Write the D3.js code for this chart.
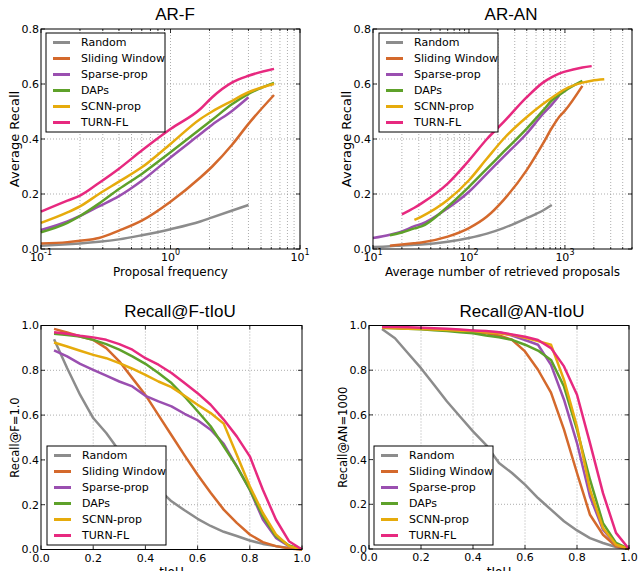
<!DOCTYPE html>
<html>
<head>
<meta charset="UTF-8">
<style>
  body { margin: 0; background: white; }
  svg { display: block; }
  text { font-family: "DejaVu Sans", sans-serif; fill: #000; }
  .title { font-family: "Liberation Sans", Arial, sans-serif; font-size: 17px; }
</style>
</head>
<body>
<svg></svg>
<script src="https://cdn.jsdelivr.net/npm/d3@7"></script>
<script>

const methods = ["Random", "Sliding Window", "Sparse-prop", "DAPs", "SCNN-prop", "TURN-FL"];
const colors = ["#8c8c8c", "#d4692c", "#9a4fb0", "#5ea12a", "#e6ab0c", "#e7297f"];

// AR-F  (proposal frequency, log axis)
const arfFreq    = [0.1, 0.16, 0.2, 0.28, 0.4, 0.6, 1.0, 1.7, 2.1, 3.0, 4.0, 6.3];
const arfRandom  = [0.012, 0.017, 0.02, 0.026, 0.035, 0.05, 0.072, 0.1, 0.115, 0.14, 0.16, null];
const arfSliding = [0.02, 0.025, 0.03, 0.04, 0.067, 0.103, 0.172, 0.26, 0.3, 0.38, 0.455, 0.56];
const arfSparse  = [0.069, 0.1, 0.12, 0.155, 0.192, 0.248, 0.333, 0.418, 0.452, 0.503, 0.552, null];
const arfDaps    = [0.061, 0.095, 0.12, 0.165, 0.218, 0.273, 0.352, 0.436, 0.47, 0.527, 0.564, 0.604];
const arfScnn    = [0.095, 0.133, 0.155, 0.2, 0.245, 0.297, 0.382, 0.473, 0.5, 0.539, 0.57, 0.6];
const arfTurn    = [0.136, 0.176, 0.194, 0.24, 0.292, 0.358, 0.436, 0.509, 0.552, 0.606, 0.63, 0.655];

// AR-AN (average number of retrieved proposals, log axis)
const aranNum     = [10, 15, 20, 27, 32, 60, 100, 154, 229, 398, 590, 730, 870, 1000, 1520, 1900, 2570];
const aranRandom  = [0.007, 0.01, 0.013, 0.015, 0.016, 0.026, 0.04, 0.056, 0.076, 0.112, 0.14, 0.16, null, null, null, null, null];
const aranSliding = [null, 0.012, 0.016, 0.021, 0.024, 0.045, 0.076, 0.118, 0.178, 0.286, 0.383, 0.44, 0.48, 0.503, 0.593, null, null];
const aranSparse  = [0.04, 0.052, 0.064, 0.083, 0.091, 0.148, 0.208, 0.274, 0.335, 0.419, 0.491, 0.525, 0.557, null, null, null, null];
const aranDaps    = [null, 0.05, 0.06, 0.075, 0.082, 0.154, 0.226, 0.292, 0.353, 0.437, 0.503, 0.54, 0.56, 0.575, 0.611, null, null];
const aranScnn    = [null, null, null, 0.106, 0.118, 0.178, 0.25, 0.329, 0.4, 0.479, 0.527, 0.55, 0.568, 0.581, 0.605, 0.612, 0.617];
const aranTurn    = [null, null, 0.126, 0.15, 0.166, 0.238, 0.322, 0.4, 0.461, 0.551, 0.605, 0.625, 0.638, 0.645, 0.66, 0.665, null];

// tIoU thresholds
const tiou = [0.05, 0.1, 0.15, 0.2, 0.25, 0.3, 0.35, 0.4, 0.45, 0.5, 0.55, 0.6, 0.65, 0.7, 0.75, 0.8, 0.85, 0.9, 0.95, 1.0];

// Recall@F=1.0 vs tIoU
const rfRandom  = [0.939, 0.81, 0.69, 0.587, 0.52, 0.44, 0.38, 0.33, 0.27, 0.215, 0.175, 0.137, 0.105, 0.079, 0.06, 0.04, 0.025, 0.015, 0.007, 0];
const rfSliding = [0.985, 0.969, 0.951, 0.936, 0.899, 0.84, 0.765, 0.69, 0.6, 0.51, 0.42, 0.334, 0.253, 0.178, 0.119, 0.067, 0.033, 0.015, 0.005, 0];
const rfSparse  = [0.889, 0.862, 0.829, 0.802, 0.776, 0.75, 0.728, 0.686, 0.661, 0.639, 0.606, 0.577, 0.535, 0.472, 0.371, 0.267, 0.134, 0.052, 0.015, 0];
const rfDaps    = [0.963, 0.958, 0.951, 0.936, 0.917, 0.892, 0.862, 0.829, 0.788, 0.743, 0.683, 0.617, 0.55, 0.461, 0.371, 0.267, 0.149, 0.059, 0.018, 0];
const rfScnn    = [0.924, 0.906, 0.887, 0.869, 0.854, 0.832, 0.807, 0.78, 0.75, 0.725, 0.686, 0.646, 0.609, 0.562, 0.423, 0.282, 0.163, 0.067, 0.015, 0];
const rfTurn    = [0.97, 0.963, 0.954, 0.947, 0.936, 0.917, 0.892, 0.854, 0.825, 0.788, 0.743, 0.698, 0.646, 0.58, 0.505, 0.416, 0.267, 0.134, 0.037, 0];

// Recall@AN=1000 vs tIoU
const ranRandom  = [0.984, 0.943, 0.876, 0.809, 0.735, 0.66, 0.593, 0.526, 0.466, 0.385, 0.34, 0.288, 0.228, 0.176, 0.124, 0.083, 0.049, 0.027, 0.009, 0];
const ranSliding = [0.993, 0.99, 0.988, 0.985, 0.983, 0.98, 0.975, 0.97, 0.965, 0.955, 0.936, 0.884, 0.802, 0.7, 0.534, 0.34, 0.153, 0.064, 0.012, 0];
const ranSparse  = [0.993, 0.99, 0.988, 0.985, 0.983, 0.98, 0.977, 0.975, 0.972, 0.97, 0.955, 0.935, 0.914, 0.824, 0.668, 0.474, 0.235, 0.086, 0.019, 0];
const ranDaps    = [0.99, 0.988, 0.986, 0.983, 0.979, 0.975, 0.97, 0.965, 0.955, 0.947, 0.936, 0.914, 0.888, 0.846, 0.727, 0.534, 0.31, 0.116, 0.027, 0];
const ranScnn    = [0.99, 0.988, 0.986, 0.984, 0.982, 0.98, 0.977, 0.975, 0.97, 0.965, 0.958, 0.945, 0.93, 0.914, 0.757, 0.548, 0.265, 0.094, 0.019, 0];
const ranTurn    = [0.993, 0.993, 0.992, 0.99, 0.988, 0.985, 0.982, 0.978, 0.975, 0.97, 0.96, 0.95, 0.935, 0.899, 0.817, 0.69, 0.474, 0.25, 0.072, 0];

const linTicks = [0, 0.2, 0.4, 0.6, 0.8, 1.0];
const arTicks = [0, 0.2, 0.4, 0.6, 0.8];

let width = 639, height = 571;
let svg = d3.select("svg").attr("width", width).attr("height", height);

function drawPanel(p) {
  let g = svg.append("g");
  let x = p.log ? d3.scaleLog().domain(p.xDomain) : d3.scaleLinear().domain(p.xDomain);
  x.range([p.left, p.right]);
  let y = d3.scaleLinear().domain(p.yDomain).range([p.bottom, p.top]);

  let xMajor, xMinor;
  if (p.log) {
    let all = x.ticks();
    xMajor = all.filter(v => Math.abs(Math.log10(v) - Math.round(Math.log10(v))) < 1e-9);
    xMinor = all.filter(v => !xMajor.includes(v));
  } else {
    xMajor = p.xTicks;
    xMinor = [];
  }

  // dotted grid
  let grid = g.append("g").attr("stroke", "#8a8a8a").attr("stroke-width", 0.7).attr("stroke-dasharray", "1,2");
  xMajor.concat(xMinor).forEach(v => {
    if (Math.abs(x(v) - p.left) < 1 || Math.abs(x(v) - p.right) < 1) return;
    grid.append("line").attr("x1", x(v)).attr("x2", x(v)).attr("y1", p.top).attr("y2", p.bottom);
  });
  p.yTicks.forEach(v => {
    if (Math.abs(y(v) - p.top) < 1 || Math.abs(y(v) - p.bottom) < 1) return;
    grid.append("line").attr("x1", p.left).attr("x2", p.right).attr("y1", y(v)).attr("y2", y(v));
  });

  // curves
  let line = d3.line()
    .defined(d => d[1] != null)
    .x(d => x(d[0]))
    .y(d => y(d[1]))
    .curve(p.log ? d3.curveMonotoneX : d3.curveLinear);
  p.series.forEach((s, i) => {
    g.append("path")
      .datum(p.xs.map((v, j) => [v, s[j]]))
      .attr("fill", "none")
      .attr("stroke", colors[i])
      .attr("stroke-width", 2.5)
      .attr("stroke-linejoin", "round")
      .attr("d", line);
  });

  // frame
  g.append("rect")
    .attr("x", p.left).attr("y", p.top)
    .attr("width", p.right - p.left).attr("height", p.bottom - p.top)
    .attr("fill", "none").attr("stroke", "#000").attr("stroke-width", 1);

  // inward ticks on all sides
  let tk = g.append("g").attr("stroke", "#000").attr("stroke-width", 0.8);
  xMajor.forEach(v => {
    tk.append("line").attr("x1", x(v)).attr("x2", x(v)).attr("y1", p.bottom).attr("y2", p.bottom - 4);
    tk.append("line").attr("x1", x(v)).attr("x2", x(v)).attr("y1", p.top).attr("y2", p.top + 4);
  });
  xMinor.forEach(v => {
    tk.append("line").attr("x1", x(v)).attr("x2", x(v)).attr("y1", p.bottom).attr("y2", p.bottom - 2);
    tk.append("line").attr("x1", x(v)).attr("x2", x(v)).attr("y1", p.top).attr("y2", p.top + 2);
  });
  p.yTicks.forEach(v => {
    tk.append("line").attr("x1", p.left).attr("x2", p.left + 4).attr("y1", y(v)).attr("y2", y(v));
    tk.append("line").attr("x1", p.right).attr("x2", p.right - 4).attr("y1", y(v)).attr("y2", y(v));
  });

  // tick labels
  p.yTicks.forEach(v => {
    g.append("text")
      .attr("x", p.left - 2).attr("y", y(v))
      .attr("dy", "0.36em")
      .attr("text-anchor", "end")
      .style("font-size", "11px")
      .text(d3.format(".1f")(v));
  });
  xMajor.forEach(v => {
    let t = g.append("text")
      .attr("x", x(v)).attr("y", p.bottom + 12)
      .attr("text-anchor", "middle")
      .style("font-size", "11px");
    if (p.log) {
      t.append("tspan").text("10");
      t.append("tspan").attr("dy", -6).style("font-size", "8px").text(Math.round(Math.log10(v)));
    } else {
      t.text(d3.format(".1f")(v));
    }
  });

  // titles and axis labels
  g.append("text").attr("class", "title")
    .attr("x", p.titleX).attr("y", p.top - 9)
    .attr("text-anchor", "middle")
    .text(p.title);
  g.append("text")
    .attr("x", (p.left + p.right) / 2).attr("y", p.bottom + 26.5)
    .attr("text-anchor", "middle")
    .style("font-size", "12px")
    .text(p.xLabel);
  g.append("text")
    .attr("transform", "translate(" + (p.left - 22) + "," + ((p.top + p.bottom) / 2) + ") rotate(-90)")
    .attr("text-anchor", "middle")
    .style("font-size", p.yLabelSize)
    .text(p.yLabel);

  // legend
  let lg = g.append("g").attr("transform", "translate(" + p.legend[0] + "," + p.legend[1] + ")");
  lg.append("rect")
    .attr("width", 119).attr("height", 99)
    .attr("fill", "white").attr("stroke", "#000").attr("stroke-width", 1);
  methods.forEach((m, i) => {
    let cy = 9.5 + i * 16;
    lg.append("line")
      .attr("x1", 7).attr("x2", 24).attr("y1", cy).attr("y2", cy)
      .attr("stroke", colors[i]).attr("stroke-width", 3);
    lg.append("text")
      .attr("x", 35).attr("y", cy).attr("dy", "0.36em")
      .style("font-size", "11px")
      .text(m);
  });
}

drawPanel({
  left: 41, right: 300, top: 29, bottom: 249,
  log: true, xDomain: [0.1, 10], yDomain: [0, 0.8], yTicks: arTicks,
  xs: arfFreq, series: [arfRandom, arfSliding, arfSparse, arfDaps, arfScnn, arfTurn],
  title: "AR-F", titleX: 175, xLabel: "Proposal frequency",
  yLabel: "Average Recall", yLabelSize: "13px", legend: [46, 33]
});

drawPanel({
  left: 373, right: 632, top: 29, bottom: 249,
  log: true, xDomain: [10, 5000], yDomain: [0, 0.8], yTicks: arTicks,
  xs: aranNum, series: [aranRandom, aranSliding, aranSparse, aranDaps, aranScnn, aranTurn],
  title: "AR-AN", titleX: 511, xLabel: "Average number of retrieved proposals",
  yLabel: "Average Recall", yLabelSize: "13px", legend: [379, 33]
});

drawPanel({
  left: 41, right: 302, top: 325.5, bottom: 549.5,
  log: false, xDomain: [0, 1], xTicks: linTicks, yDomain: [0, 1], yTicks: linTicks,
  xs: tiou, series: [rfRandom, rfSliding, rfSparse, rfDaps, rfScnn, rfTurn],
  title: "Recall@F-tIoU", titleX: 180, xLabel: "tIoU",
  yLabel: "Recall@F=1.0", yLabelSize: "11.5px", legend: [47, 446]
});

drawPanel({
  left: 369, right: 629, top: 325.5, bottom: 549,
  log: false, xDomain: [0, 1], xTicks: linTicks, yDomain: [0, 1], yTicks: linTicks,
  xs: tiou, series: [ranRandom, ranSliding, ranSparse, ranDaps, ranScnn, ranTurn],
  title: "Recall@AN-tIoU", titleX: 522, xLabel: "tIoU",
  yLabel: "Recall@AN=1000", yLabelSize: "11.5px", legend: [374, 446]
});

</script>
</body>
</html>
